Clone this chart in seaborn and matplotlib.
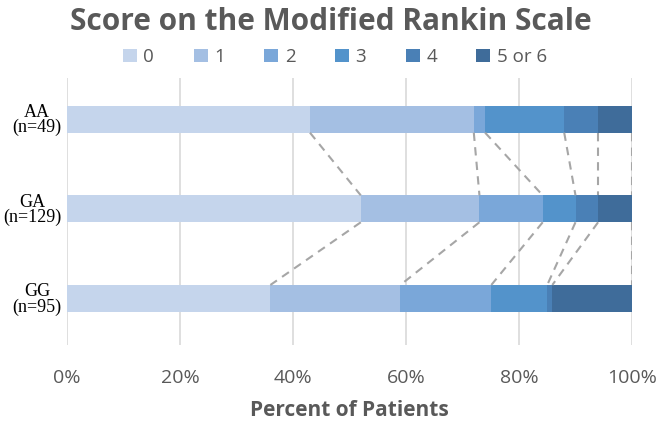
import numpy as np
import pandas as pd
import matplotlib
matplotlib.use("Agg")
import matplotlib.pyplot as plt
import seaborn as sns
from matplotlib.patches import Patch

groups = ["AA\n(n=49)", "GA\n(n=129)", "GG\n(n=95)"]
scores = ["0", "1", "2", "3", "4", "5 or 6"]
pct_0 = [43.0, 52.0, 36.0]
pct_1 = [29.0, 21.0, 23.0]
pct_2 = [2.0, 11.2, 16.1]
pct_3 = [14.0, 5.8, 9.9]
pct_4 = [6.0, 4.0, 0.9]
pct_56 = [6.0, 6.0, 14.1]
colors = ["#c5d5ec", "#a4bfe3", "#7aa7d9", "#5393cb", "#4a80b6", "#3f6c9a"]
xticks = [0, 20, 40, 60, 80, 100]

sns.set_theme(style="white")
plt.rcParams["font.family"] = ["Open Sans", "DejaVu Sans"]

fig = plt.figure(figsize=(6.61, 4.33), dpi=100)
ax = fig.add_axes([67/661, 1-345/433, (632-67)/661, (345-78)/433])

series = [pct_0, pct_1, pct_2, pct_3, pct_4, pct_56]
cum = np.cumsum(np.array(series), axis=0)  # shape (6, 3)

for k in range(len(scores) - 1, -1, -1):
    df = pd.DataFrame({"group": groups, "value": cum[k]})
    sns.barplot(data=df, x="value", y="group", orient="h", color=colors[k],
                width=0.3, saturation=1, ax=ax, zorder=2,
                edgecolor="none", linewidth=0)

# connector dashed lines between adjacent bars
h = 0.3
for i in range(len(groups) - 1):
    for k in range(len(scores)):
        ax.plot([cum[k][i], cum[k][i + 1]], [i + h/2, i + 1 - h/2],
                ls=(0, (4, 3)), color="#a6a6a6", lw=1.5, zorder=3)

ax.set_xlim(0, 100)
ax.set_ylim(2.52, -0.46)
ax.set_xticks(xticks)
ax.set_xticklabels([f"{t}%" for t in xticks], fontsize=14, color="#595959")
ax.tick_params(axis="x", length=0, pad=17)
ax.tick_params(axis="y", length=0, pad=4)
for lab in ax.get_yticklabels():
    lab.set_fontfamily("Liberation Serif")
    lab.set_fontsize(13)
    lab.set_color("black")
    lab.set_linespacing(0.85)
    lab.set_multialignment("center")
ax.xaxis.grid(True, color="#d9d9d9", lw=1.2, zorder=0)
ax.set_axisbelow(True)
for s in ax.spines.values():
    s.set_visible(False)
ax.set_ylabel("")
ax.set_xlabel("Percent of Patients", fontsize=15, fontweight="bold",
              color="#595959", labelpad=10)

fig.text(0.5, 1-22/433, "Score on the Modified Rankin Scale", ha="center",
         va="center", fontsize=21.5, fontweight="bold", color="#595959")

handles = [Patch(facecolor=c, edgecolor="none") for c in colors]
fig.legend(handles, scores, loc="center", bbox_to_anchor=(335/661, 1-57/433),
           ncol=6, frameon=False, fontsize=13.5, labelcolor="#595959",
           handlelength=0.75, handleheight=0.75, handletextpad=0.35,
           columnspacing=2.1)

fig.savefig("out.png", dpi=100)
